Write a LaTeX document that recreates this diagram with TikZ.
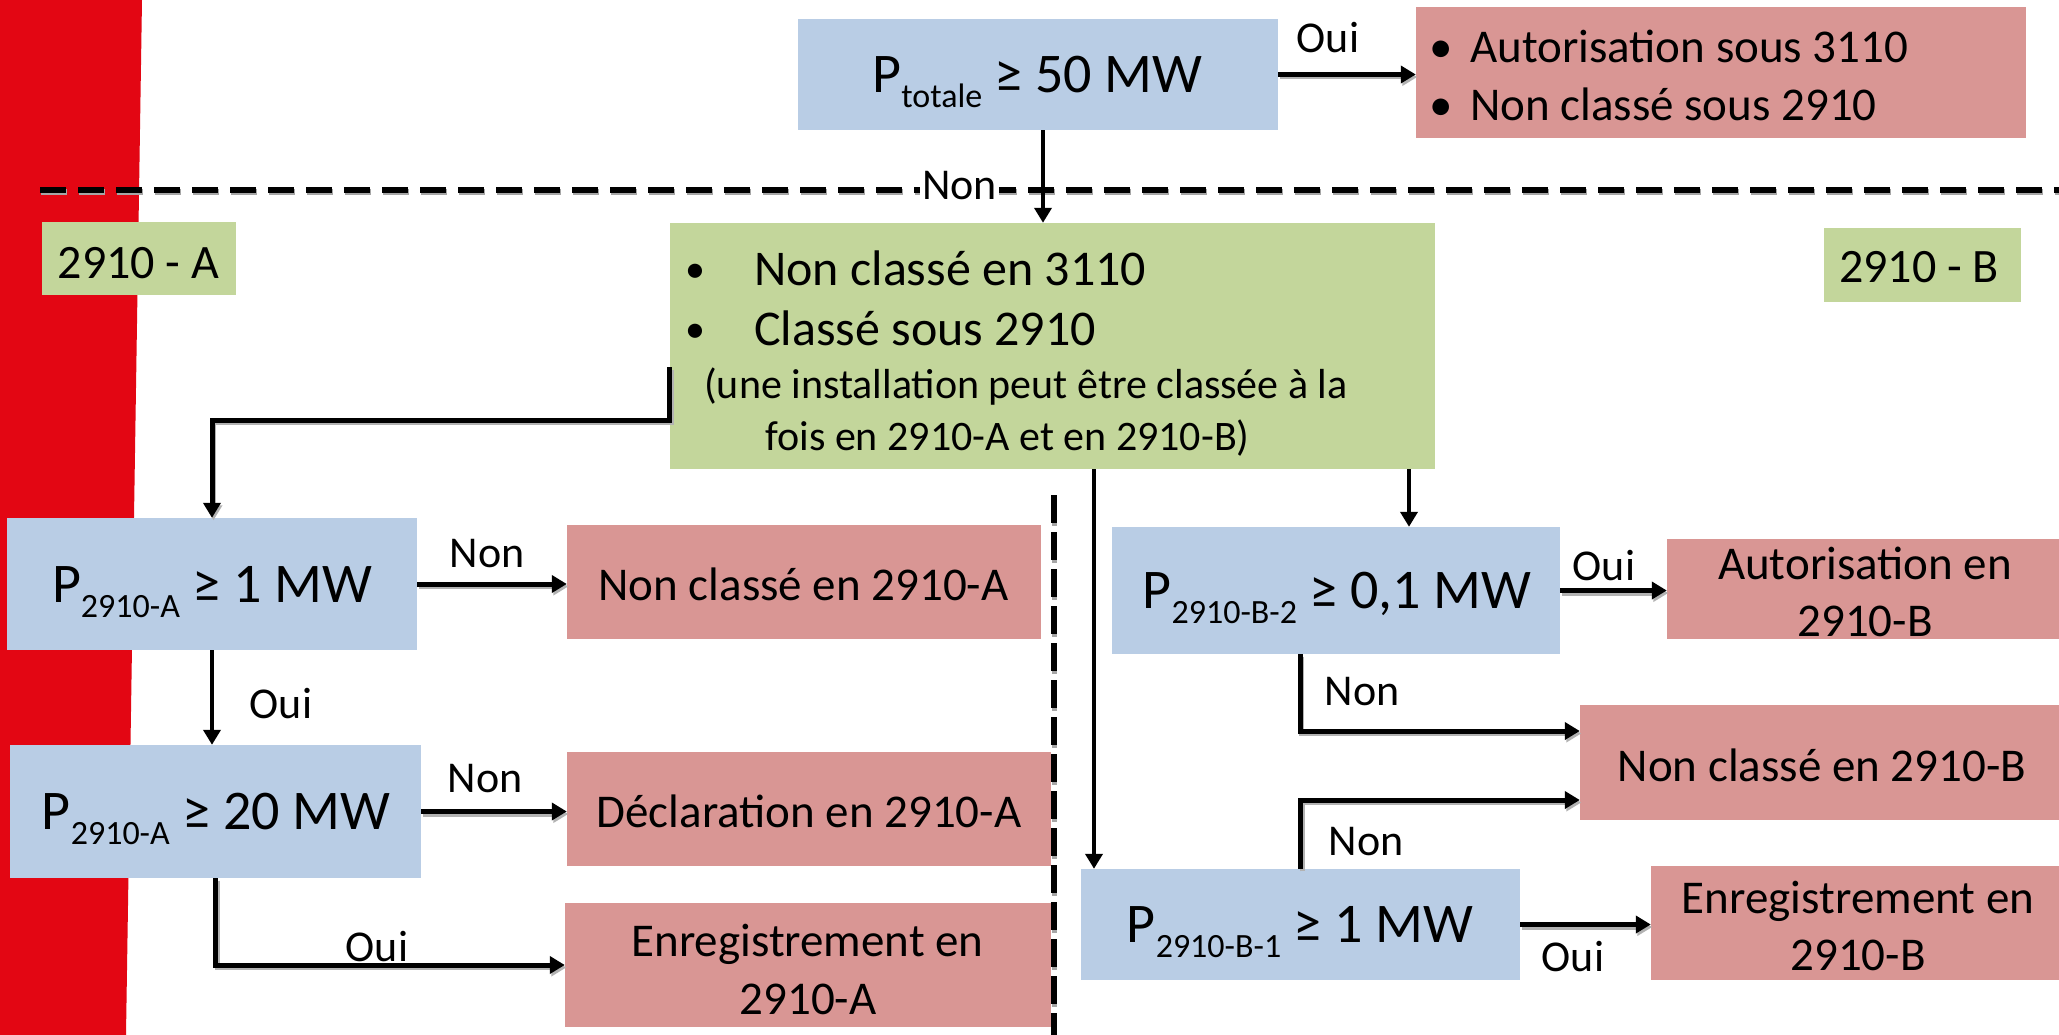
\documentclass[tikz,border=0pt]{standalone}
\usepackage{fontspec}
\setmainfont{Carlito}
\usetikzlibrary{arrows.meta}
\definecolor{bblue}{HTML}{B9CDE5}
\definecolor{bgreen}{HTML}{C3D69B}
\definecolor{bred}{HTML}{D99694}
\definecolor{band}{HTML}{E30613}
\newcommand{\pcond}[2]{P\raisebox{-15pt}{\fontsize{34pt}{36pt}\selectfont #1} #2}
\tikzset{
  tipA/.tip={Triangle[length=15pt,width=17pt]},
  bluebox/.style={fill=bblue, inner sep=0pt},
  greenbox/.style={fill=bgreen, inner sep=0pt},
  redbox/.style={fill=bred, inner sep=0pt},
  bigtxt/.style={inner sep=0pt, anchor=base, font=\fontsize{56pt}{60pt}\selectfont},
  redtxt/.style={inner sep=0pt, anchor=base, font=\fontsize{47pt}{56pt}\selectfont},
  grtxt/.style={inner sep=0pt, anchor=base west, font=\fontsize{50pt}{56pt}\selectfont},
  smalltxt/.style={inner sep=0pt, anchor=base, font=\fontsize{42pt}{50pt}\selectfont},
  lbl/.style={inner sep=0pt, anchor=base, font=\fontsize{44pt}{48pt}\selectfont},
  thick arrow/.style={line width=5pt, -tipA,
    preaction={draw=black!30, line width=5pt, -tipA, transform canvas={shift={(1.5pt,-2.5pt)}}}},
  thin arrow/.style={line width=4.5pt, -tipA},
}
\begin{document}
\begin{tikzpicture}[x=1pt,y=-1pt]
\useasboundingbox (0,0) rectangle (2059,1035);
\fill[white] (0,0) rectangle (2059,1035);
% red band
\fill[band] (0,0) -- (142,0) -- (126,1035) -- (0,1035) -- cycle;
% dashed separators
\draw[line width=6pt, dash pattern=on 26pt off 12pt,
  preaction={draw=black!35, line width=6pt, dash pattern=on 26pt off 12pt, transform canvas={shift={(1pt,-2.5pt)}}}]
  (40,190) -- (2059,190);
\draw[line width=5.5pt, dash pattern=on 28pt off 9pt,
  preaction={draw=black!35, line width=5.5pt, dash pattern=on 28pt off 9pt, transform canvas={shift={(0.5pt,-3pt)}}}]
  (1054,495) -- (1054,1035);

% boxes
\node[bluebox, minimum width=480pt, minimum height=111pt] (ptot) at (1038,74.5) {};
\node[redbox, minimum width=610pt, minimum height=131pt] (r1) at (1721,72.5) {};
\node[greenbox, minimum width=765pt, minimum height=246pt] (green) at (1052.5,346) {};
\node[greenbox, minimum width=194pt, minimum height=73pt] (lblA) at (139,258.5) {};
\node[greenbox, minimum width=197pt, minimum height=74pt] (lblB) at (1922.5,265) {};
\node[bluebox, minimum width=410pt, minimum height=132pt] (pa1) at (212,584) {};
\node[redbox, minimum width=474pt, minimum height=114pt] (ra1) at (804,582) {};
\node[bluebox, minimum width=411pt, minimum height=133pt] (pa2) at (215.5,811.5) {};
\node[redbox, minimum width=484pt, minimum height=114pt] (ra2) at (809,809) {};
\node[redbox, minimum width=486pt, minimum height=124pt] (ra3) at (808,965) {};
\node[bluebox, minimum width=448pt, minimum height=127pt] (pb2) at (1336,590.5) {};
\node[redbox, minimum width=392pt, minimum height=100pt] (rb1) at (1863,589) {};
\node[redbox, minimum width=479pt, minimum height=115pt] (rb2) at (1819.5,762.5) {};
\node[bluebox, minimum width=439pt, minimum height=111pt] (pb1) at (1300.5,924.5) {};
\node[redbox, minimum width=408pt, minimum height=114pt] (rb3) at (1855,923) {};

% texts
\node[bigtxt] (ptot-t) at (1037.5,93) {\pcond{totale}{≥ 50 MW}};
\node[redtxt, anchor=base] (r1-b1) at (1441,63) {•};
\node[redtxt, anchor=base west] (r1-t1) at (1470,63) {Autorisation sous 3110};
\node[redtxt, anchor=base] (r1-b2) at (1441,121) {•};
\node[redtxt, anchor=base west] (r1-t2) at (1470,121) {Non classé sous 2910};

\node[grtxt, anchor=base, font=\fontsize{40pt}{50pt}\selectfont] (g-b1) at (695,282) {•};
\node[grtxt] (g-t1) at (754,285) {Non classé en 3110};
\node[grtxt, anchor=base, font=\fontsize{40pt}{50pt}\selectfont] (g-b2) at (695,342) {•};
\node[grtxt] (g-t2) at (754,345) {Classé sous 2910};
\node[smalltxt] (g-t3) at (1026,398) {(une installation peut être classée à la};
\node[smalltxt] (g-t4) at (1007.5,450) {fois en 2910-A et en 2910-B)};

\node[redtxt, font=\fontsize{48pt}{56pt}\selectfont] (lblA-t) at (138.5,278) {2910 - A};
\node[redtxt, font=\fontsize{48pt}{56pt}\selectfont] (lblB-t) at (1919,283) {2910 - B};

\node[bigtxt] (pa1-t) at (212,602) {\pcond{2910-A}{≥ 1 MW}};
\node[bigtxt] (pa2-t) at (216,829) {\pcond{2910-A}{≥ 20 MW}};
\node[bigtxt] (pb2-t) at (1337,608.5) {\pcond{2910-B-2}{≥ 0,1 MW}};
\node[bigtxt] (pb1-t) at (1300,942) {\pcond{2910-B-1}{≥ 1 MW}};

\node[redtxt] (ra1-t) at (803.5,600.7) {Non classé en 2910-A};
\node[redtxt] (ra2-t) at (809,827.6) {Déclaration en 2910-A};
\node[redtxt] (ra3-t1) at (807.5,956) {Enregistrement en};
\node[redtxt] (ra3-t2) at (808,1014) {2910-A};
\node[redtxt] (rb1-t1) at (1865,579) {Autorisation en};
\node[redtxt] (rb1-t2) at (1865,636.5) {2910-B};
\node[redtxt] (rb2-t) at (1822,781.6) {Non classé en 2910-B};
\node[redtxt] (rb3-t1) at (1858,913) {Enregistrement en};
\node[redtxt] (rb3-t2) at (1858,970) {2910-B};

% connectors
\path ([xshift=5pt]ptot.south) coordinate (ps);
\draw[thin arrow] (ps) -- (ps |- green.north);
\node[lbl, fill=white, inner sep=2pt] (l-non0) at (959.5,200) {Non};
\draw[thick arrow] (ptot.east) -- (ptot.east -| r1.west);
\node[lbl] (l-oui0) at (1328,53) {Oui};

\draw[thick arrow] ([yshift=-21pt]green.west) -- ++(0,53) -| (pa1.north);

\draw[thick arrow] (pa1.east) -- (pa1.east -| ra1.west);
\node[lbl] (l-non1) at (487,567) {Non};
\draw[thin arrow] (pa1.south) -- (pa1.south |- pa2.north);
\node[lbl] (l-oui1) at (281,718) {Oui};
\draw[thick arrow] (pa2.east) -- (pa2.east -| ra2.west);
\node[lbl] (l-non2) at (485,792) {Non};
\draw[thick arrow] (pa2.south) |- (ra3.west);
\node[lbl] (l-oui2) at (377,961) {Oui};

\path ([xshift=41.5pt]green.south) coordinate (gs1);
\path ([xshift=356.5pt]green.south) coordinate (gs2);
\draw[thin arrow] (gs1) -- (gs1 |- pb1.north);
\draw[thin arrow] (gs2) -- (gs2 |- pb2.north);

\draw[thick arrow] (pb2.east) -- (pb2.east -| rb1.west);
\node[lbl] (l-oui3) at (1604,580) {Oui};
\draw[thick arrow] ([xshift=-36pt]pb2.south) |- ([yshift=31.5pt]rb2.west);
\node[lbl] (l-non3) at (1362,705) {Non};
\draw[thick arrow] (pb1.north) |- ([yshift=-37.5pt]rb2.west);
\node[lbl] (l-non4) at (1366,855) {Non};
\draw[thick arrow] (pb1.east) -- (pb1.east -| rb3.west);
\node[lbl] (l-oui4) at (1573,971) {Oui};
\end{tikzpicture}
\end{document}
